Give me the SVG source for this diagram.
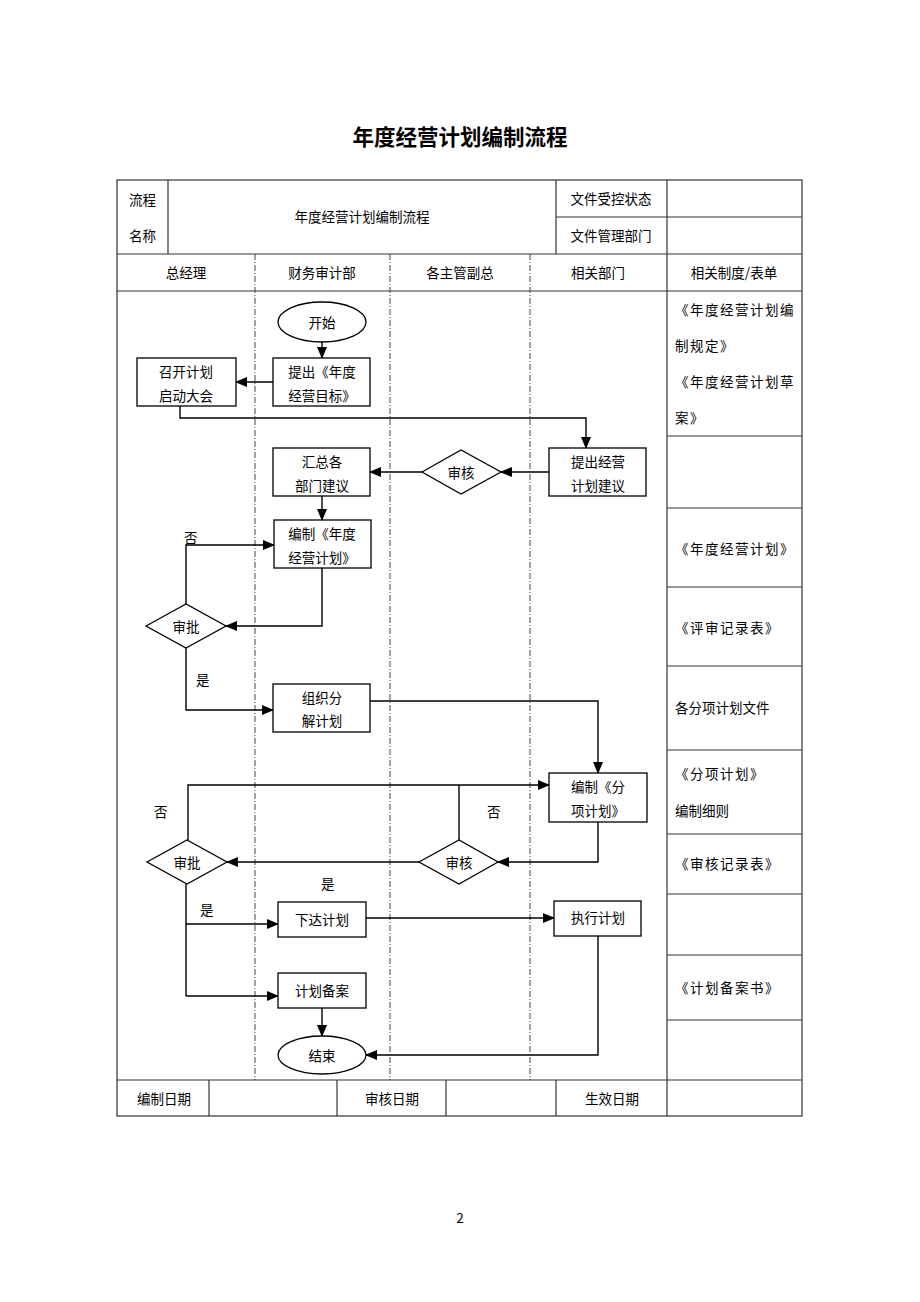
<svg xmlns="http://www.w3.org/2000/svg" width="920" height="1302" viewBox="0 0 920 1302">
<style>
text{font-family:"Noto Sans CJK SC","Liberation Serif",sans-serif;font-size:13.5px;fill:#000;dominant-baseline:central}
.c{text-anchor:middle}
.t{font-size:21.5px;font-weight:bold}
.grid{stroke:#333;stroke-width:1.2;fill:none}
.lane{stroke:#444;stroke-width:1;stroke-dasharray:6,2,1,2;fill:none}
.box{fill:#fff;stroke:#000;stroke-width:1.3}
.ln{fill:none;stroke:#000;stroke-width:1.4}
.r{letter-spacing:1.5px}
</style>
<defs>
<marker id="ah" markerUnits="userSpaceOnUse" markerWidth="12" markerHeight="10" refX="11" refY="5" orient="auto"><path d="M0,0 L12,5 L0,10 Z" fill="#000"/></marker>
</defs>
<rect width="920" height="1302" fill="#fff"/>
<text class="c t" x="460" y="135">年度经营计划编制流程</text>
<g id="table">
<rect class="grid" x="117" y="180" width="685" height="936"/>
<line class="grid" x1="117" y1="254" x2="802" y2="254"/>
<line class="grid" x1="117" y1="291" x2="802" y2="291"/>
<line class="grid" x1="117" y1="1080" x2="802" y2="1080"/>
<line class="grid" x1="556" y1="217" x2="802" y2="217"/>
<line class="grid" x1="168" y1="180" x2="168" y2="254"/>
<line class="grid" x1="556" y1="180" x2="556" y2="254"/>
<line class="grid" x1="667" y1="180" x2="667" y2="1116"/>
<line class="grid" x1="209" y1="1080" x2="209" y2="1116"/>
<line class="grid" x1="337" y1="1080" x2="337" y2="1116"/>
<line class="grid" x1="446" y1="1080" x2="446" y2="1116"/>
<line class="grid" x1="556" y1="1080" x2="556" y2="1116"/>
<line class="grid" x1="667" y1="436" x2="802" y2="436"/>
<line class="grid" x1="667" y1="508" x2="802" y2="508"/>
<line class="grid" x1="667" y1="587" x2="802" y2="587"/>
<line class="grid" x1="667" y1="666" x2="802" y2="666"/>
<line class="grid" x1="667" y1="750" x2="802" y2="750"/>
<line class="grid" x1="667" y1="834" x2="802" y2="834"/>
<line class="grid" x1="667" y1="894" x2="802" y2="894"/>
<line class="grid" x1="667" y1="955" x2="802" y2="955"/>
<line class="grid" x1="667" y1="1020" x2="802" y2="1020"/>
<line class="lane" x1="255" y1="254" x2="255" y2="1080"/>
<line class="lane" x1="390" y1="254" x2="390" y2="1080"/>
<line class="lane" x1="530" y1="254" x2="530" y2="1080"/>
<text x="129" y="199">流程</text>
<text x="129" y="235">名称</text>
<text class="c" x="362" y="216">年度经营计划编制流程</text>
<text class="c" x="611" y="198">文件受控状态</text>
<text class="c" x="611" y="235">文件管理部门</text>
<text class="c" x="186" y="272">总经理</text>
<text class="c" x="322" y="272">财务审计部</text>
<text class="c" x="460" y="272">各主管副总</text>
<text class="c" x="598" y="272">相关部门</text>
<text class="c" x="734" y="272">相关制度/表单</text>
<text class="c" x="164" y="1098">编制日期</text>
<text class="c" x="392" y="1098">审核日期</text>
<text class="c" x="612" y="1098">生效日期</text>
<text class="r" x="675" y="309">《年度经营计划编</text>
<text class="r" x="675" y="345">制规定》</text>
<text class="r" x="675" y="381">《年度经营计划草</text>
<text class="r" x="675" y="417">案》</text>
<text class="r" x="675" y="548">《年度经营计划》</text>
<text class="r" x="675" y="627">《评审记录表》</text>
<text x="675" y="707">各分项计划文件</text>
<text class="r" x="675" y="773">《分项计划》</text>
<text x="675" y="810">编制细则</text>
<text class="r" x="675" y="863">《审核记录表》</text>
<text class="r" x="675" y="987">《计划备案书》</text>
</g>
<g id="connectors">
<line class="ln" x1="322" y1="342" x2="322" y2="358" marker-end="url(#ah)"/>
<line class="ln" x1="273" y1="382" x2="236" y2="382" marker-end="url(#ah)"/>
<polyline class="ln" points="180,406 180,418 586,418 586,448" marker-end="url(#ah)"/>
<line class="ln" x1="549" y1="472" x2="501" y2="472" marker-end="url(#ah)"/>
<line class="ln" x1="422" y1="472" x2="370" y2="472" marker-end="url(#ah)"/>
<line class="ln" x1="322" y1="496" x2="322" y2="520" marker-end="url(#ah)"/>
<polyline class="ln" points="322,568 322,626 226,626" marker-end="url(#ah)"/>
<polyline class="ln" points="186,604 186,545 274,545" marker-end="url(#ah)"/>
<polyline class="ln" points="186,648 186,710 273,710" marker-end="url(#ah)"/>
<polyline class="ln" points="370,701 598,701 598,773" marker-end="url(#ah)"/>
<polyline class="ln" points="598,822 598,862 498,862" marker-end="url(#ah)"/>
<line class="ln" x1="419" y1="862" x2="227" y2="862" marker-end="url(#ah)"/>
<line class="ln" x1="459" y1="840" x2="459" y2="785"/>
<polyline class="ln" points="188,840 188,785 549,785" marker-end="url(#ah)"/>
<line class="ln" x1="186" y1="884" x2="186" y2="996"/>
<line class="ln" x1="186" y1="924" x2="278" y2="924" marker-end="url(#ah)"/>
<line class="ln" x1="186" y1="996" x2="278" y2="996" marker-end="url(#ah)"/>
<line class="ln" x1="366" y1="918" x2="554" y2="918" marker-end="url(#ah)"/>
<polyline class="ln" points="598,936 598,1055 366,1055" marker-end="url(#ah)"/>
<line class="ln" x1="322" y1="1008" x2="322" y2="1036" marker-end="url(#ah)"/>
<text x="184" y="537">否</text>
<text x="196" y="679">是</text>
<text x="154" y="811">否</text>
<text x="487" y="811">否</text>
<text x="321" y="883">是</text>
<text x="200" y="909">是</text>
</g>
<g id="start"><ellipse class="box" cx="322" cy="322" rx="44" ry="20"/><text class="c" x="322" y="322">开始</text></g>
<g id="target"><rect class="box" x="273" y="358" width="97" height="48"/><text class="c" x="322" y="371">提出《年度</text><text class="c" x="322" y="395">经营目标》</text></g>
<g id="kickoff"><rect class="box" x="137" y="358" width="99" height="48"/><text class="c" x="186" y="371">召开计划</text><text class="c" x="186" y="395">启动大会</text></g>
<g id="propose"><rect class="box" x="549" y="448" width="97" height="48"/><text class="c" x="598" y="461">提出经营</text><text class="c" x="598" y="485">计划建议</text></g>
<g id="review1"><polygon class="box" points="422,472 461,450 501,472 461,494"/><text class="c" x="461" y="472">审核</text></g>
<g id="summary"><rect class="box" x="273" y="448" width="97" height="48"/><text class="c" x="322" y="461">汇总各</text><text class="c" x="322" y="485">部门建议</text></g>
<g id="compile"><rect class="box" x="274" y="520" width="97" height="48"/><text class="c" x="322" y="533">编制《年度</text><text class="c" x="322" y="557">经营计划》</text></g>
<g id="approve1"><polygon class="box" points="146,626 186,604 226,626 186,648"/><text class="c" x="186" y="626">审批</text></g>
<g id="decompose"><rect class="box" x="273" y="684" width="97" height="48"/><text class="c" x="322" y="697">组织分</text><text class="c" x="322" y="720">解计划</text></g>
<g id="subplan"><rect class="box" x="549" y="773" width="98" height="49"/><text class="c" x="598" y="786">编制《分</text><text class="c" x="598" y="810">项计划》</text></g>
<g id="review2"><polygon class="box" points="419,862 459,840 498,862 459,884"/><text class="c" x="459" y="862">审核</text></g>
<g id="approve2"><polygon class="box" points="147,862 187,840 227,862 187,884"/><text class="c" x="187" y="862">审批</text></g>
<g id="issue"><rect class="box" x="278" y="902" width="88" height="35"/><text class="c" x="322" y="919">下达计划</text></g>
<g id="execute"><rect class="box" x="554" y="901" width="87" height="35"/><text class="c" x="598" y="917">执行计划</text></g>
<g id="archive"><rect class="box" x="278" y="973" width="88" height="35"/><text class="c" x="322" y="990">计划备案</text></g>
<g id="end"><ellipse class="box" cx="322" cy="1055" rx="44" ry="19"/><text class="c" x="322" y="1055">结束</text></g>
<text class="c" x="460" y="1217">2</text>
</svg>
